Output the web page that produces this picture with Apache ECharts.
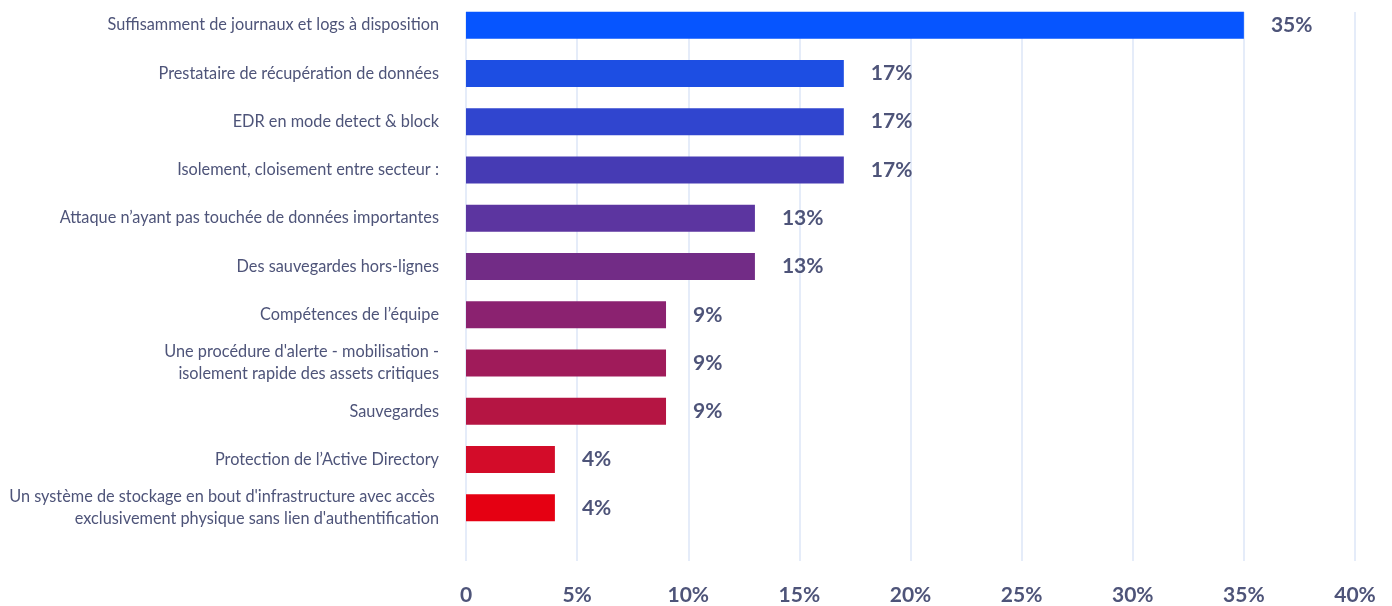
<!DOCTYPE html>
<html>
<head>
<meta charset="utf-8">
<script src="https://cdn.jsdelivr.net/npm/echarts@6/dist/echarts.min.js"></script>
<style>
  html, body { margin: 0; padding: 0; background: #ffffff; }
  #chart { width: 1392px; height: 606px; }
</style>
</head>
<body>
<div id="chart"></div>
<script>
// Facteurs ayant aidé lors de l'incident (part des répondants)
const categories = [
  "Suffisamment de journaux et logs à disposition",
  "Prestataire de récupération de données",
  "EDR en mode detect & block",
  "Isolement, cloisement entre secteur :",
  "Attaque n’ayant pas touchée de données importantes",
  "Des sauvegardes hors-lignes",
  "Compétences de l’équipe",
  "Une procédure d'alerte - mobilisation -\nisolement rapide des assets critiques",
  "Sauvegardes",
  "Protection de l’Active Directory",
  "Un système de stockage en bout d'infrastructure avec accès \nexclusivement physique sans lien d'authentification"
];
const values = [35, 17, 17, 17, 13, 13, 9, 9, 9, 4, 4];
const barColors = [
  "#0655FF", "#1D4EE3", "#3045CF", "#463BB4", "#5C35A0", "#722C86",
  "#8B2270", "#A01B5A", "#B51543", "#D30C29", "#E50012"
];
const xTicks = { min: 0, max: 40, interval: 5 };

const textColor = "#4E5479";
const fontFamily = "Lato, 'Noto Sans', sans-serif";

const chart = echarts.init(document.getElementById("chart"), null, { renderer: "canvas" });

chart.setOption({
  backgroundColor: "#ffffff",
  animation: false,
  grid: [
    // bars
    { left: 466, right: 37, top: 1, height: 531, containLabel: false },
    // vertical guides + percentage scale
    { left: 466, right: 37, top: 12, height: 550, containLabel: false }
  ],
  xAxis: [
    {
      type: "value", gridIndex: 0,
      min: xTicks.min, max: xTicks.max, interval: xTicks.interval,
      show: false
    },
    {
      type: "value", gridIndex: 1,
      min: xTicks.min, max: xTicks.max, interval: xTicks.interval,
      axisLine: { show: false },
      axisTick: { show: false },
      splitLine: { show: true, lineStyle: { color: "#DDE6F7", width: 1.5 } },
      axisLabel: {
        margin: 24,
        color: textColor,
        fontFamily: fontFamily,
        fontSize: 21,
        fontWeight: 700,
        formatter: v => v === 0 ? "0" : v + "%"
      }
    }
  ],
  yAxis: [
    {
      type: "category", gridIndex: 0,
      data: categories,
      inverse: true,
      axisLine: { show: false },
      axisTick: { show: false },
      splitLine: { show: false },
      axisLabel: {
        margin: 27,
        color: textColor,
        fontFamily: fontFamily,
        fontSize: 16.3,
        lineHeight: 22,
        align: "right",
        padding: [4, 0, 0, 0]
      }
    },
    {
      type: "category", gridIndex: 1,
      data: [""],
      show: false
    }
  ],
  series: [
    {
      type: "bar",
      xAxisIndex: 0,
      yAxisIndex: 0,
      barWidth: 27,
      data: values.map((v, i) => ({ value: v, itemStyle: { color: barColors[i] } })),
      label: {
        show: true,
        position: "right",
        distance: 27,
        color: textColor,
        fontFamily: fontFamily,
        fontSize: 21,
        fontWeight: 700,
        formatter: p => p.value + "%"
      },
      z: 3
    }
  ]
});
</script>
</body>
</html>
